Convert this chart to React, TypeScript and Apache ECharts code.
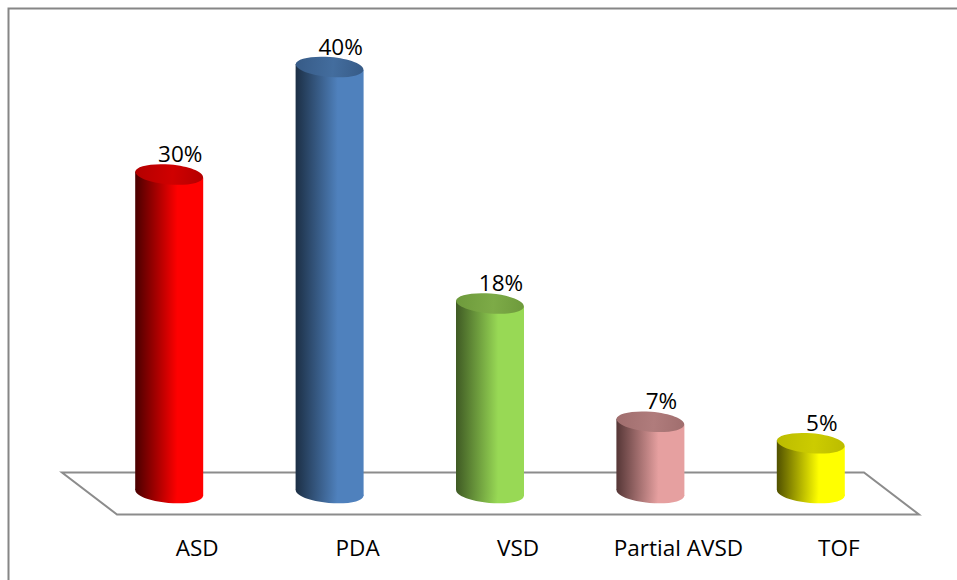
import React, { useEffect, useRef } from "react";
import * as echarts from "echarts";

const categories = ["ASD", "PDA", "VSD", "Partial AVSD", "TOF"];
const values = [30, 40, 18, 7, 5];
const sideDark = ["#4a0000", "#1c2f45", "#3f5a24", "#553636", "#505000"];
const sideLight = ["#ff0000", "#4f81bd", "#98d955", "#e6a0a0", "#ffff00"];
const topDark = ["#b40000", "#375b87", "#6e9a3c", "#a06e6e", "#bcbc00"];
const topLight = ["#d00000", "#436d9e", "#7dab47", "#b07c7c", "#cccc00"];

const FONT = "'Open Sans', sans-serif";
const FONT_SIZE = 22.5;
const BAR_SHIFT = -28;
const BASE_LIFT = 4;
const RX = 34;
const RY = 10;
const TILT = 3;
const ROTATION = -0.085;

function renderCylinder(params: any, api: any) {
  const i = api.value(0);
  const v = api.value(1);
  const [cx0, topY] = api.coord([i, v]);
  const [, zeroY] = api.coord([i, 0]);
  const botY = zeroY - BASE_LIFT;
  const cx = cx0 + BAR_SHIFT;
  const side = new echarts.graphic.LinearGradient(0, 0, 1, 0, [
    { offset: 0, color: sideDark[i] },
    { offset: 0.62, color: sideLight[i] },
    { offset: 1, color: sideLight[i] },
  ]);
  const cap = new echarts.graphic.LinearGradient(0, 0, 1, 0, [
    { offset: 0, color: topDark[i] },
    { offset: 0.55, color: topLight[i] },
    { offset: 1, color: topDark[i] },
  ]);
  return {
    type: "group",
    children: [
      {
        type: "ellipse",
        shape: { cx: 0, cy: 0, rx: RX, ry: RY },
        x: cx,
        y: botY,
        rotation: ROTATION,
        style: { fill: side },
      },
      {
        type: "polygon",
        shape: {
          points: [
            [cx - RX, topY - TILT],
            [cx + RX, topY + TILT],
            [cx + RX, botY + TILT],
            [cx - RX, botY - TILT],
          ],
        },
        style: { fill: side },
      },
      {
        type: "ellipse",
        shape: { cx: 0, cy: 0, rx: RX, ry: RY },
        x: cx,
        y: topY,
        rotation: ROTATION,
        style: { fill: cap },
      },
      {
        type: "text",
        x: cx + 11,
        y: topY - 21,
        style: {
          text: `${v}%`,
          fill: "#000000",
          font: `${FONT_SIZE}px ${FONT}`,
          align: "center",
          verticalAlign: "middle",
        },
      },
    ],
  };
}

export default function App() {
  const ref = useRef<HTMLDivElement>(null);
  useEffect(() => {
    const chart = echarts.init(ref.current!, null, { renderer: "svg" });
    chart.setOption({
      animation: false,
      backgroundColor: "#ffffff",
      grid: { left: 117, right: 38, top: 67, bottom: 83 },
      xAxis: {
        type: "category",
        data: categories,
        axisLine: { show: false },
        axisTick: { show: false },
        splitLine: { show: false },
        axisLabel: {
          color: "#000000",
          fontFamily: FONT,
          fontSize: FONT_SIZE,
          margin: 39,
          interval: 0,
        },
      },
      yAxis: { type: "value", min: 0, max: 40, show: false },
      graphic: {
        elements: [
          {
            type: "polyline",
            silent: true,
            shape: {
              points: [
                [8.5, 580],
                [8.5, 8.5],
                [957, 8.5],
              ],
            },
            style: { fill: "none", stroke: "#868686", lineWidth: 2 },
          },
          {
            type: "polygon",
            silent: true,
            shape: {
              points: [
                [62, 472.5],
                [864, 472.5],
                [919, 514.5],
                [117, 514.5],
              ],
            },
            style: { fill: "#ffffff", stroke: "#8c8c8c", lineWidth: 2 },
          },
        ],
      },
      series: [
        {
          type: "custom",
          coordinateSystem: "cartesian2d",
          renderItem: renderCylinder,
          encode: { x: 0, y: 1 },
          data: values.map((v, i) => [i, v]),
          z: 5,
        },
      ],
    });
    return () => chart.dispose();
  }, []);
  return (
    <div
      ref={ref}
      style={{ position: "fixed", left: 0, top: 0, width: 957, height: 580 }}
    />
  );
}
